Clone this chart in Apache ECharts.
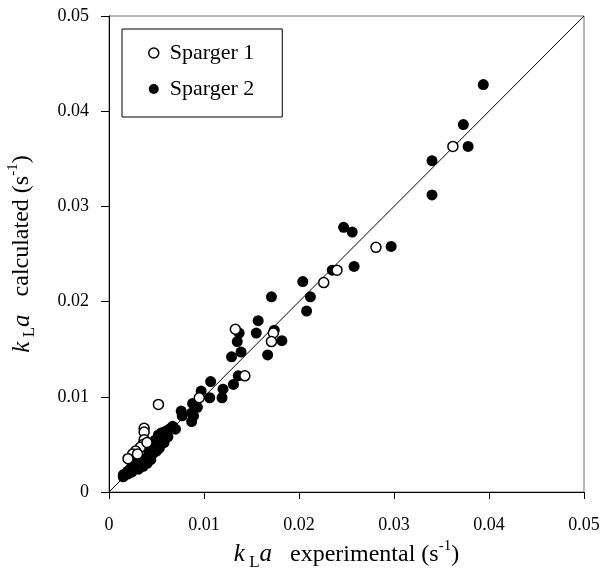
<!DOCTYPE html>
<html>
<head>
<meta charset="utf-8">
<script src="https://cdn.jsdelivr.net/npm/echarts@6/dist/echarts.min.js"></script>
<style>
html,body{margin:0;padding:0;background:#fff;}
#chart{width:604px;height:570px;}
</style>
</head>
<body>
<div id="chart"></div>
<script>
// Tick labels (both axes share the same range)
var tickValues = [0, 0.01, 0.02, 0.03, 0.04, 0.05];
var tickLabels = ['0', '0.01', '0.02', '0.03', '0.04', '0.05'];

// Parity line endpoints
var parityLine = [[0, 0], [0.05, 0.05]];

// Sparger 1 (open circles): [kLa experimental, kLa calculated]
var sparger1 = [
  [0.0362, 0.0363], [0.0281, 0.0257], [0.0240, 0.0233], [0.0226, 0.0220],
  [0.0173, 0.0167], [0.0171, 0.0158], [0.0133, 0.0171], [0.0143, 0.0122],
  [0.0095, 0.0099], [0.0052, 0.0092], [0.0037, 0.0067], [0.0037, 0.0063],
  [0.0037, 0.0055], [0.0036, 0.0050], [0.0033, 0.0047], [0.0028, 0.0043],
  [0.0025, 0.0040], [0.0020, 0.0035], [0.0030, 0.0040], [0.0040, 0.0052]
];

// Sparger 2 (filled circles)
var sparger2 = [
  [0.0394, 0.0428], [0.0373, 0.0386], [0.0378, 0.0363], [0.0340, 0.0348],
  [0.0340, 0.0312], [0.0297, 0.0258], [0.0258, 0.0237], [0.0256, 0.0273],
  [0.0247, 0.0278], [0.0235, 0.0233], [0.0212, 0.0205], [0.0208, 0.0190],
  [0.0204, 0.0221], [0.0182, 0.0159], [0.0174, 0.0170], [0.0171, 0.0205],
  [0.0167, 0.0144], [0.0157, 0.0180], [0.0155, 0.0167], [0.0139, 0.0147],
  [0.0137, 0.0167], [0.0135, 0.0158], [0.0136, 0.0122], [0.0129, 0.0142],
  [0.0131, 0.0113], [0.0120, 0.0108], [0.0119, 0.0099], [0.0107, 0.0116],
  [0.0106, 0.0099], [0.0097, 0.0106], [0.0088, 0.0093], [0.0093, 0.0089],
  [0.0076, 0.0085], [0.0077, 0.0080], [0.0087, 0.0083], [0.0089, 0.0080],
  [0.0087, 0.0074], [0.0067, 0.0069], [0.0065, 0.0067], [0.0062, 0.0065],
  [0.0058, 0.0063], [0.0055, 0.0062], [0.0060, 0.0058], [0.0055, 0.0055],
  [0.0052, 0.0060], [0.0050, 0.0052], [0.0053, 0.0050], [0.0048, 0.0047],
  [0.0045, 0.0045], [0.0042, 0.0042], [0.0040, 0.0036], [0.0038, 0.0032],
  [0.0035, 0.0033], [0.0033, 0.0029], [0.0030, 0.0031], [0.0028, 0.0027],
  [0.0025, 0.0028], [0.0023, 0.0025], [0.0020, 0.0022], [0.0018, 0.0020],
  [0.0015, 0.0016], [0.0015, 0.0018], [0.0045, 0.0050], [0.0043, 0.0038],
  [0.0027, 0.0034], [0.0032, 0.0036], [0.0056, 0.0058], [0.0048, 0.0054],
  [0.0050, 0.0043], [0.0046, 0.0040], [0.0040, 0.0030], [0.0036, 0.0027],
  [0.0031, 0.0024], [0.0024, 0.0021], [0.0058, 0.0052], [0.0062, 0.0058],
  [0.0070, 0.0066], [0.0053, 0.0046], [0.0044, 0.0034], [0.0020, 0.0019]
];

var FONT = '"Liberation Serif", "DejaVu Serif", serif';

function fmt(v) {
  for (var i = 0; i < tickValues.length; i++) {
    if (Math.abs(v - tickValues[i]) < 1e-9) return tickLabels[i];
  }
  return '';
}

var titleRich = {
  i: {fontFamily: FONT, fontStyle: 'italic', fontSize: 25, color: '#000', lineHeight: 32, verticalAlign: 'middle'},
  n: {fontFamily: FONT, fontSize: 24, color: '#000', lineHeight: 32, verticalAlign: 'middle'},
  sub: {fontFamily: FONT, fontSize: 17, color: '#000', lineHeight: 28, verticalAlign: 'bottom'},
  sup: {fontFamily: FONT, fontSize: 15, color: '#000', lineHeight: 15, verticalAlign: 'top'}
};

var chart = echarts.init(document.getElementById('chart'), null, {renderer: 'canvas'});
chart.setOption({
  backgroundColor: '#fff',
  animation: false,
  grid: {
    left: 109, right: 20, top: 16, bottom: 78,
    containLabel: false, outerBoundsMode: 'none',
    show: true, borderColor: '#707070', borderWidth: 1, backgroundColor: 'transparent'
  },
  legend: {
    left: 122, top: 29,
    orient: 'vertical',
    borderColor: '#000', borderWidth: 1, borderRadius: 0,
    padding: [13, 28, 17, 26],
    itemGap: 14,
    itemWidth: 10, itemHeight: 10,
    textStyle: {fontFamily: FONT, fontSize: 22, color: '#000', padding: [0, 0, 0, 6]},
    data: [
      {name: 'Sparger 1', icon: 'circle', itemStyle: {color: '#fff', borderColor: '#000', borderWidth: 1.5}},
      {name: 'Sparger 2', icon: 'circle', itemStyle: {color: '#000', borderWidth: 0}}
    ]
  },
  xAxis: {
    type: 'value', min: 0, max: 0.05, interval: 0.01,
    name: '{i|k}{sub| L}{i|a}{n|   experimental (s}{sup|-1}{n|)}',
    nameLocation: 'middle', nameGap: 45,
    nameTextStyle: {rich: titleRich},
    axisLine: {show: true, onZero: false, lineStyle: {color: '#000', width: 1}},
    axisTick: {show: true, inside: false, length: 7, lineStyle: {color: '#000'}},
    axisLabel: {fontFamily: FONT, fontSize: 18, color: '#000', margin: 24, formatter: fmt},
    splitLine: {show: false}
  },
  yAxis: {
    type: 'value', min: 0, max: 0.05, interval: 0.01,
    name: '{i|k}{sub| L}{i|a}{n|   calculated (s}{sup|-1}{n|)}',
    nameLocation: 'middle', nameGap: 71, nameRotate: 90,
    nameTextStyle: {rich: titleRich},
    axisLine: {show: true, onZero: false, lineStyle: {color: '#000', width: 1}},
    axisTick: {show: true, inside: false, length: 8, lineStyle: {color: '#000'}},
    axisLabel: {fontFamily: FONT, fontSize: 18, color: '#000', margin: 20, formatter: fmt},
    splitLine: {show: false}
  },
  series: [
    {
      name: 'parity', type: 'line', data: parityLine, symbol: 'none',
      lineStyle: {color: '#000', width: 1}, z: 1, silent: true
    },
    {
      name: 'Sparger 2', type: 'scatter', data: sparger2,
      symbol: 'circle', symbolSize: 11,
      itemStyle: {color: '#000', opacity: 1}, z: 2
    },
    {
      name: 'Sparger 1', type: 'scatter', data: sparger1,
      symbol: 'circle', symbolSize: 10,
      itemStyle: {color: '#fff', borderColor: '#000', borderWidth: 1.5, opacity: 1}, z: 3
    }
  ]
});
</script>
</body>
</html>
